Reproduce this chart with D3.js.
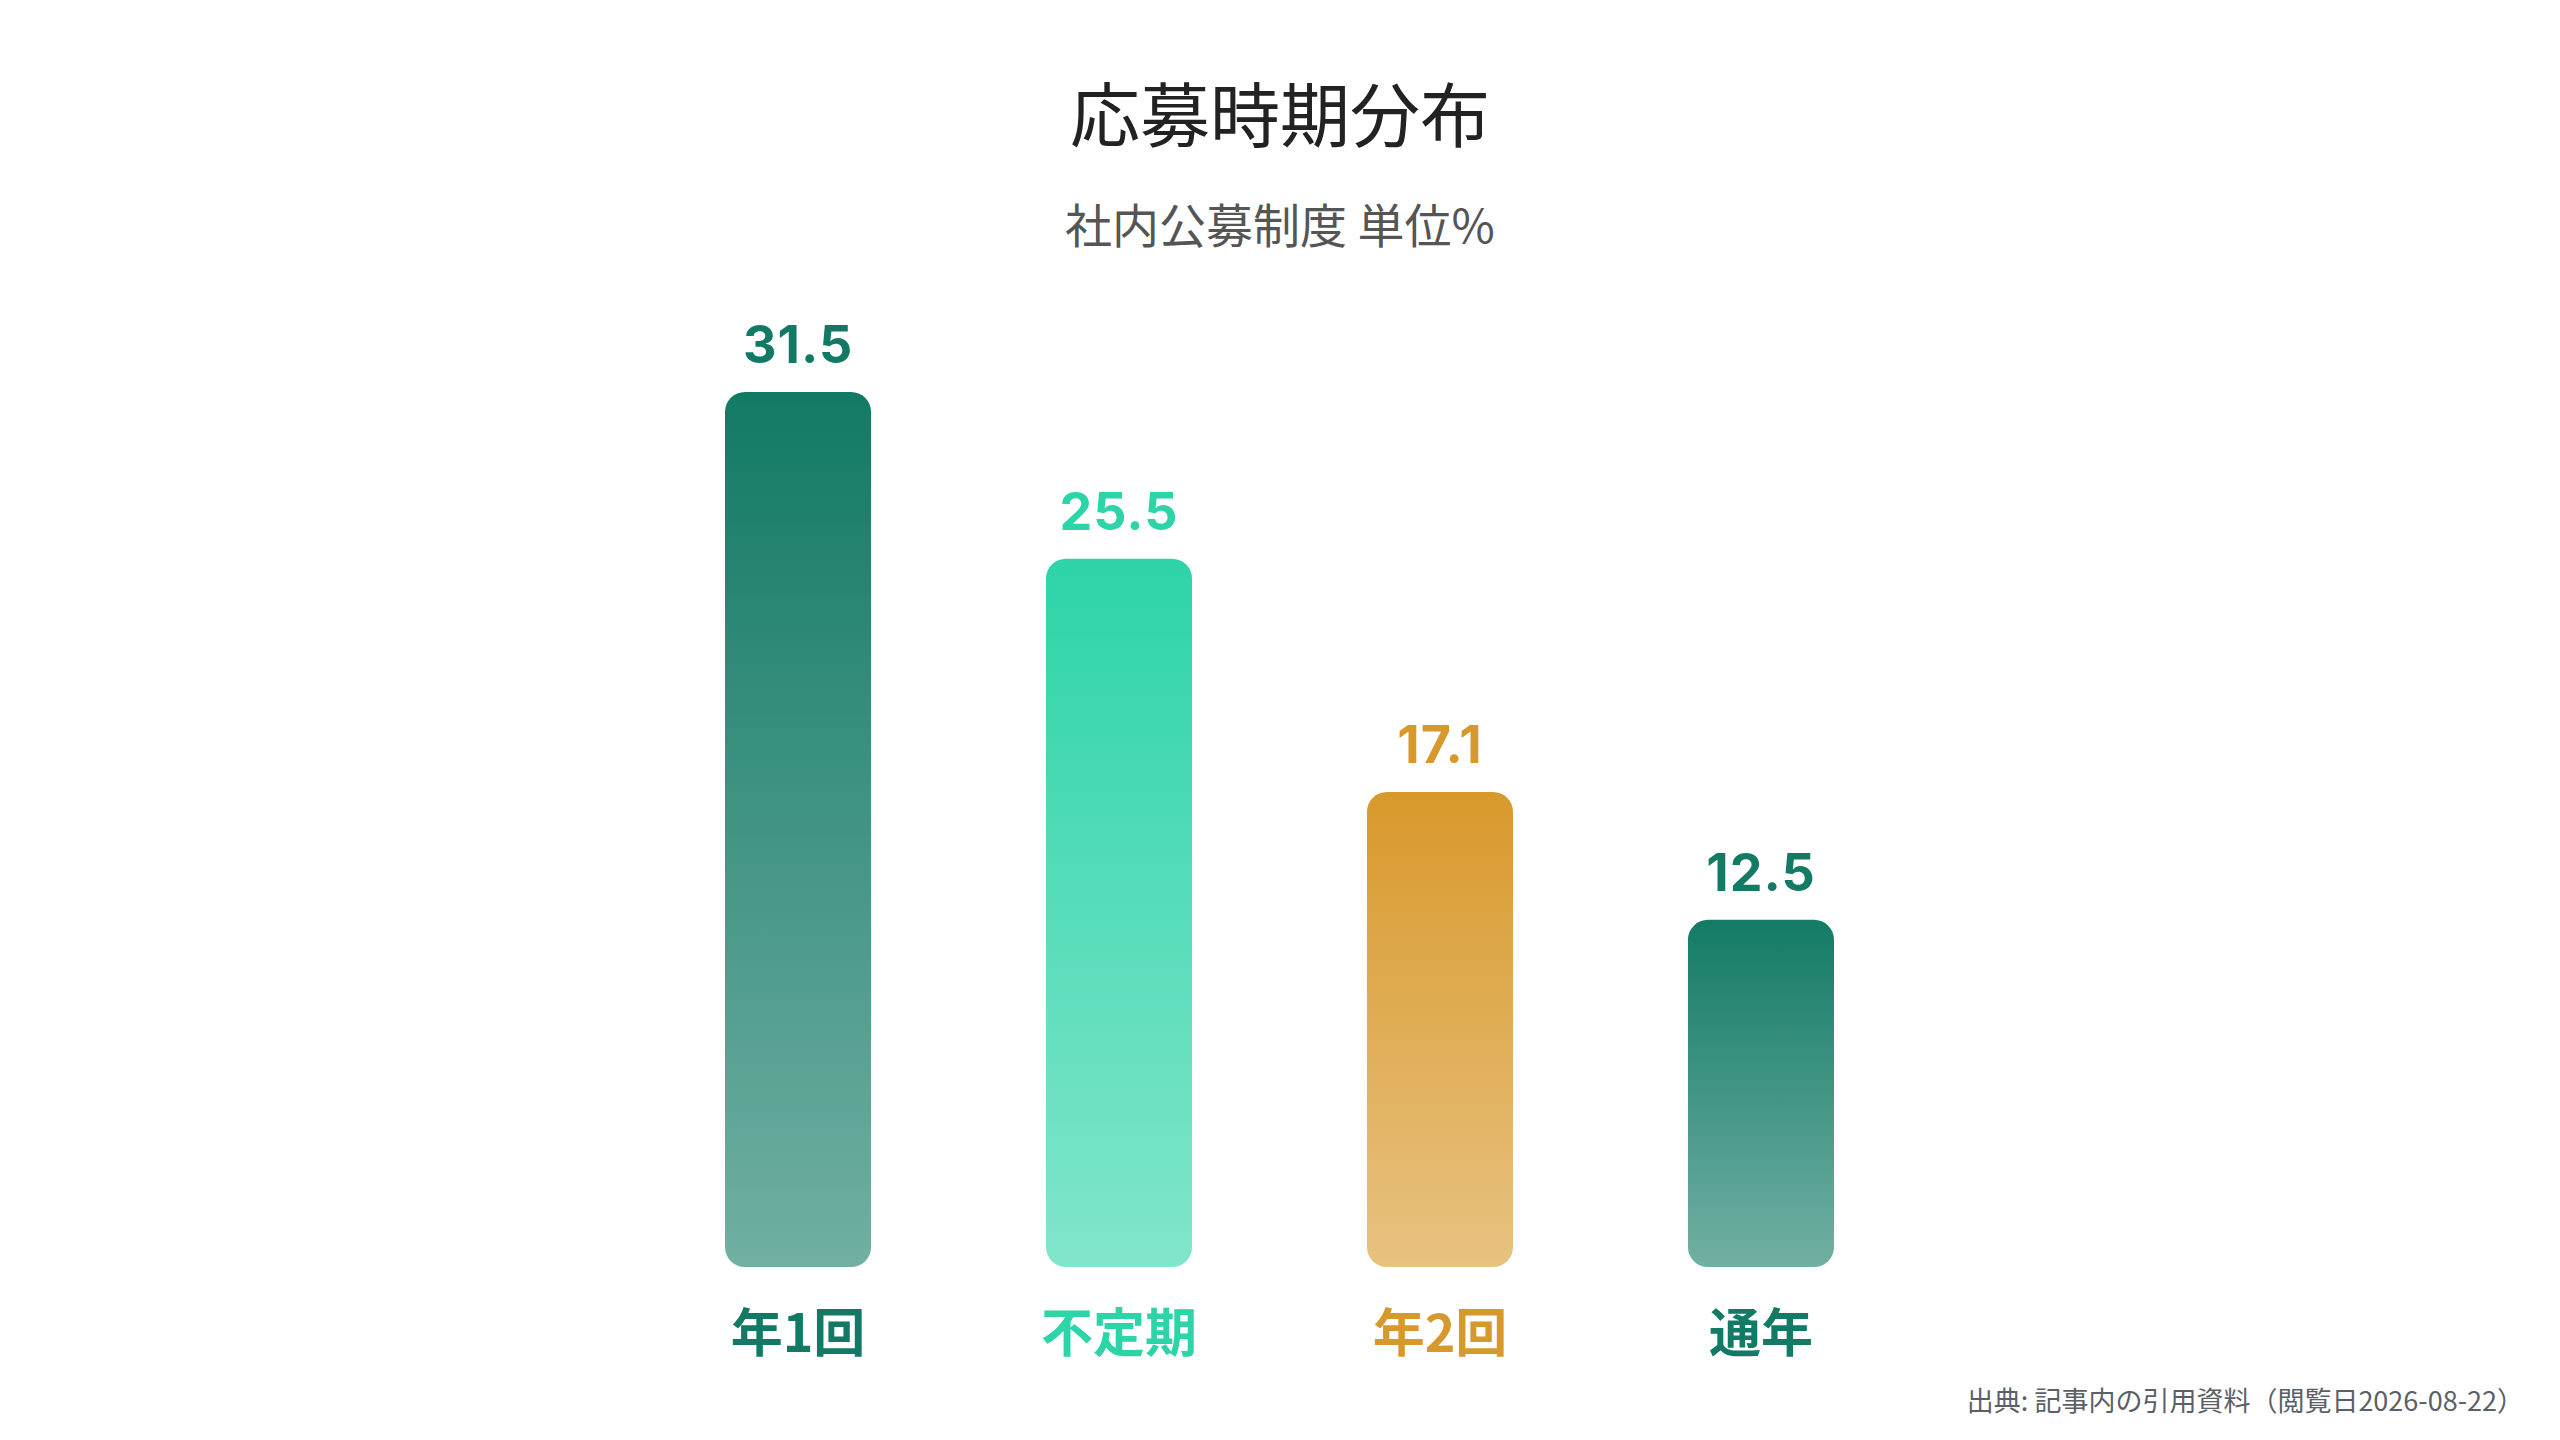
<!DOCTYPE html>
<html>
<head>
<meta charset="utf-8">
<script src="https://cdn.jsdelivr.net/npm/d3@7"></script>
<style>
  html, body { margin: 0; padding: 0; background: #fff; }
  svg { display: block; }
</style>
</head>
<body>
<div id="chart"></div>
<script>
// data
const categories = ['年1回', '不定期', '年2回', '通年']
const values = [31.5, 25.5, 17.1, 12.5]
const barColors = ['#127a64', '#2dd4a7', '#d8992c', '#137b65']

const titleText = '応募時期分布'
const subtitleText = '社内公募制度 単位%'
const sourceText = '出典: 記事内の引用資料（閲覧日2026-08-22）'

const width = 2560, height = 1440
const cjk = '"Noto Sans CJK JP", "Noto Sans", sans-serif'

const svg = d3.select('#chart').append('svg')
  .attr('width', width)
  .attr('height', height)

const defs = svg.append('defs')

let x = d3.scaleBand()
  .domain(categories)
  .range([725, 1834])
  .paddingInner(0.545)
  .paddingOuter(0)

let y = d3.scaleLinear()
  .domain([0, d3.max(values)])
  .range([1267, 392])

// one vertical gradient per bar, fading toward the bottom
categories.forEach((c, i) => {
  let g = defs.append('linearGradient')
    .attr('id', 'grad' + i)
    .attr('x1', 0).attr('y1', 0)
    .attr('x2', 0).attr('y2', 1)
  g.append('stop').attr('offset', '0%').attr('stop-color', barColors[i]).attr('stop-opacity', 1)
  g.append('stop').attr('offset', '100%').attr('stop-color', barColors[i]).attr('stop-opacity', 0.6)
})

const rows = categories.map((c, i) => ({name: c, value: values[i], color: barColors[i], idx: i}))

// title + subtitle
svg.append('text')
  .attr('x', width / 2)
  .attr('y', 142)
  .attr('text-anchor', 'middle')
  .style('font-family', cjk)
  .style('font-size', '70px')
  .style('fill', '#222')
  .text(titleText)

svg.append('text')
  .attr('x', width / 2)
  .attr('y', 243)
  .attr('text-anchor', 'middle')
  .style('font-family', cjk)
  .style('font-size', '47px')
  .style('fill', '#555')
  .text(subtitleText)

// bars
svg.selectAll('.bar')
  .data(rows)
  .enter().append('rect')
  .attr('class', 'bar')
  .attr('x', d => x(d.name))
  .attr('y', d => y(d.value))
  .attr('width', x.bandwidth())
  .attr('height', d => y(0) - y(d.value))
  .attr('rx', 20)
  .attr('ry', 20)
  .attr('fill', d => 'url(#grad' + d.idx + ')')

// value labels above bars
svg.selectAll('.val')
  .data(rows)
  .enter().append('text')
  .attr('class', 'val')
  .attr('x', d => x(d.name) + x.bandwidth() / 2)
  .attr('y', d => y(d.value) - 29)
  .attr('text-anchor', 'middle')
  .style('font-family', 'Inter, "Noto Sans", sans-serif')
  .style('font-weight', 700)
  .style('font-size', '52px')
  .style('letter-spacing', '1px')
  .style('fill', d => d.color)
  .text(d => d.value.toFixed(1))

// category labels under bars
svg.selectAll('.cat')
  .data(rows)
  .enter().append('text')
  .attr('class', 'cat')
  .attr('x', d => x(d.name) + x.bandwidth() / 2)
  .attr('y', 1352)
  .attr('text-anchor', 'middle')
  .style('font-family', cjk)
  .style('font-weight', 700)
  .style('font-size', '52px')
  .style('fill', d => d.color)
  .text(d => d.name)

// source note
svg.append('text')
  .attr('x', 2524)
  .attr('y', 1411)
  .attr('text-anchor', 'end')
  .style('font-family', cjk)
  .style('font-size', '27px')
  .style('fill', '#5b6068')
  .text(sourceText)
</script>
</body>
</html>
